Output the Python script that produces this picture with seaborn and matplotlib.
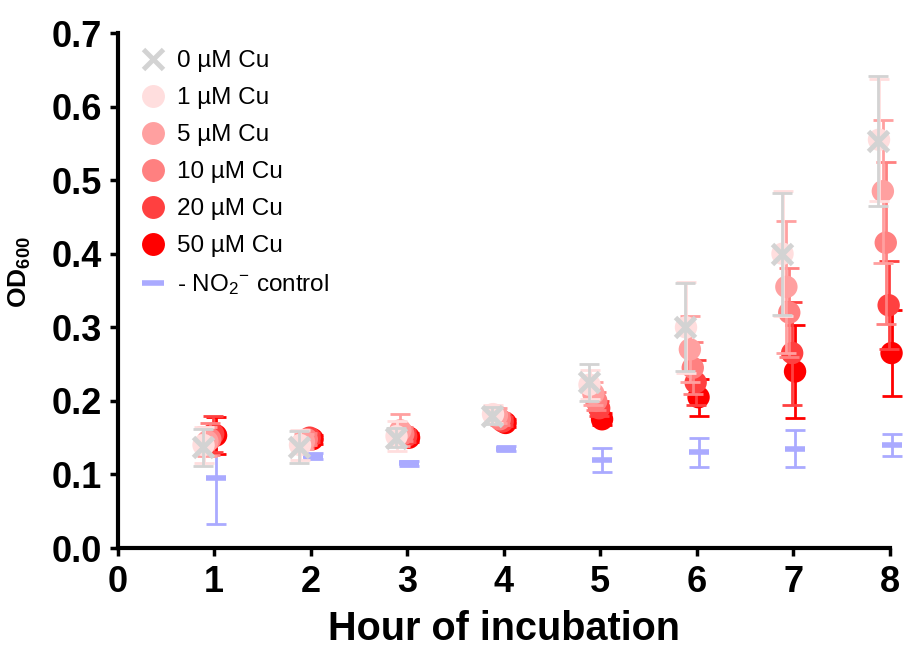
import numpy as np
import pandas as pd
import matplotlib
matplotlib.use("Agg")
import matplotlib.pyplot as plt
import seaborn as sns
from matplotlib.lines import Line2D

hours = [1, 2, 3, 4, 5, 6, 7, 8]
labels = ["0 µM Cu", "1 µM Cu", "5 µM Cu", "10 µM Cu", "20 µM Cu", "50 µM Cu"]
cu0 = [0.137, 0.137, 0.150, 0.180, 0.225, 0.300, 0.400, 0.553]
cu0_err = [0.025, 0.022, 0.013, 0.012, 0.025, 0.060, 0.083, 0.088]
cu1 = [0.140, 0.140, 0.152, 0.182, 0.222, 0.300, 0.400, 0.555]
cu1_err = [0.025, 0.020, 0.020, 0.012, 0.020, 0.062, 0.085, 0.083]
cu5 = [0.145, 0.145, 0.160, 0.180, 0.210, 0.270, 0.355, 0.485]
cu5_err = [0.020, 0.010, 0.022, 0.010, 0.015, 0.045, 0.090, 0.097]
cu10 = [0.148, 0.148, 0.155, 0.175, 0.200, 0.245, 0.320, 0.415]
cu10_err = [0.022, 0.008, 0.010, 0.008, 0.012, 0.035, 0.060, 0.110]
cu20 = [0.155, 0.150, 0.152, 0.172, 0.190, 0.225, 0.265, 0.330]
cu20_err = [0.025, 0.006, 0.008, 0.006, 0.010, 0.030, 0.070, 0.060]
cu50 = [0.153, 0.148, 0.150, 0.170, 0.175, 0.205, 0.240, 0.265]
cu50_err = [0.025, 0.006, 0.006, 0.006, 0.008, 0.025, 0.063, 0.058]
ctrl = [0.095, 0.125, 0.115, 0.135, 0.120, 0.130, 0.135, 0.140]
ctrl_err = [0.063, 0.004, 0.003, 0.003, 0.016, 0.020, 0.025, 0.015]
ctrl_label = "- NO$_2$$^{-}$ control"

series_vals = [cu0, cu1, cu5, cu10, cu20, cu50]
series_errs = [cu0_err, cu1_err, cu5_err, cu10_err, cu20_err, cu50_err]
colors = ["#d3d3d3", "#ffdede", "#ffa0a0", "#ff8080", "#ff4040", "#ff0000"]
offsets = [-0.12, -0.11, -0.07, -0.04, -0.01, 0.02]
ctrl_color = "#aaaaff"
ctrl_offset = 0.02

sns.set_theme(style="ticks")
plt.rcParams["font.family"] = ["Liberation Sans", "DejaVu Sans"]
plt.rcParams.update({
    "text.color": "black", "axes.labelcolor": "black",
    "xtick.color": "black", "ytick.color": "black",
    "mathtext.fontset": "custom",
    "mathtext.rm": "Liberation Sans",
    "mathtext.it": "Liberation Sans:italic",
    "mathtext.bf": "Liberation Sans:bold",
})

fig = plt.figure(figsize=(9.05, 6.49), dpi=100)
ax = fig.add_axes([0.130, 0.1556, 0.853, 0.7935])

CAP = 7.5

# control
cx = np.array(hours) + ctrl_offset
ax.errorbar(cx, ctrl, yerr=ctrl_err, fmt="none", ecolor=ctrl_color,
            elinewidth=2, capsize=CAP, capthick=2, zorder=1, clip_on=False)
ax.plot(cx, ctrl, linestyle="none", marker="_", markersize=15, mew=4,
        color=ctrl_color, zorder=2, clip_on=False)

# draw 50 µM first, 0 µM last
for i in reversed(range(6)):
    x = np.array(hours) + offsets[i]
    eb = ax.errorbar(x, series_vals[i], yerr=series_errs[i], fmt="none",
                     ecolor=colors[i], elinewidth=2, capsize=CAP, capthick=2,
                     zorder=3 + (5 - i) * 2)
    for art in eb.lines[1] + eb.lines[2]:
        art.set_clip_on(False)
    df = pd.DataFrame({"x": x, "y": series_vals[i]})
    if i == 0:
        ax.plot(x, series_vals[i], linestyle="none", marker="x",
                markersize=15, mew=3.5, color=colors[i],
                zorder=4 + (5 - i) * 2, clip_on=False)
    else:
        sc = sns.scatterplot(data=df, x="x", y="y", ax=ax, marker="o", s=260,
                             color=colors[i], edgecolor="none", linewidth=0,
                             legend=False, zorder=4 + (5 - i) * 2)
        sc.collections[-1].set_clip_on(False)

leg_handles = [Line2D([], [], linestyle="none", marker="x", markersize=14,
                      mew=3.5, color=colors[0])]
for c in colors[1:]:
    leg_handles.append(Line2D([], [], linestyle="none", marker="o",
                              markersize=16.5, markeredgewidth=0, color=c))
leg_handles.append(Line2D([], [], linestyle="none", marker="_",
                          markersize=16, mew=4, color=ctrl_color))
leg_labels = labels + [ctrl_label]
ax.legend(leg_handles, leg_labels, loc="upper left",
          bbox_to_anchor=(0.005, 1.0), frameon=False, fontsize=17.5,
          handlelength=1.2, handletextpad=0.4, labelspacing=0.62,
          borderaxespad=0.3)

ax.set_xlim(0, 8)
ax.set_ylim(0, 0.7)
ax.set_xticks(range(0, 9))
ax.set_yticks(np.arange(0, 0.71, 0.1))
ax.set_yticklabels([f"{v:.1f}" for v in np.arange(0, 0.71, 0.1)])
for lab in ax.get_xticklabels() + ax.get_yticklabels():
    lab.set_fontweight("bold")
    lab.set_fontsize(26)
ax.tick_params(axis="both", width=2.5, length=6, color="black")
ax.tick_params(axis="x", pad=6)
ax.tick_params(axis="y", pad=5.5)
for s in ["left", "bottom"]:
    ax.spines[s].set_linewidth(3)
    ax.spines[s].set_color("black")
sns.despine(ax=ax)
ax.set_xlabel("Hour of incubation", fontsize=28.5, fontweight="bold")
ax.xaxis.set_label_coords(0.5, -0.121)
ax.set_ylabel("OD$_{\\mathbf{600}}$", fontsize=19, fontweight="bold")
ax.yaxis.set_label_coords(-0.11, 0.535)

fig.savefig("out.png", dpi=100)
